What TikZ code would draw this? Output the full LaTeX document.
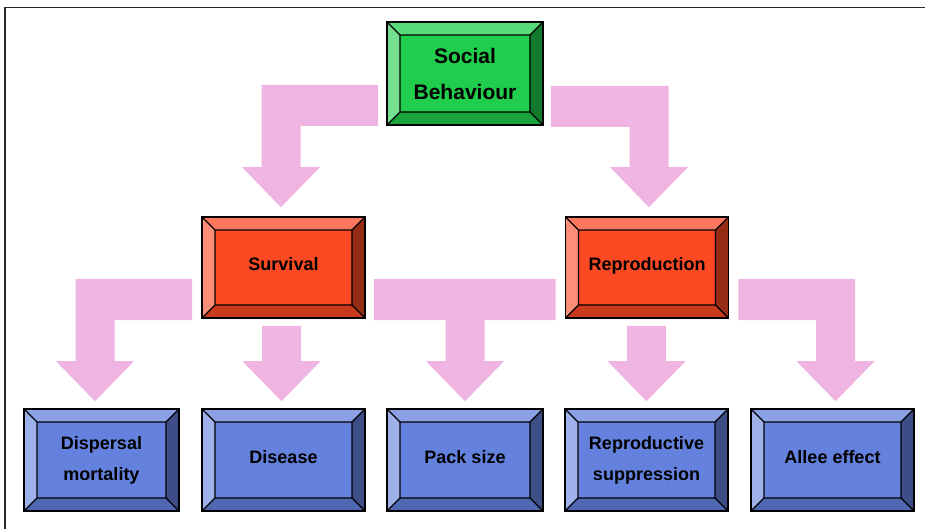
\documentclass[tikz,border=0pt]{standalone}
\usepackage{fontspec}
\setmainfont{Liberation Sans}
\usetikzlibrary{calc}

\definecolor{boxgreen}{RGB}{32,205,76}
\definecolor{boxred}{RGB}{251,73,36}
\definecolor{boxblue}{RGB}{100,129,221}
\definecolor{arrowpink}{RGB}{240,180,226}
\definecolor{framegray}{RGB}{40,40,40}

% block arrows: bar from the source, then down to the tip
\newcommand{\elbowarrow}[2]{%
  \fill[pinkarrow] let \p1=(#1), \p2=(#2), \n1={sign(\x2-\x1)} in
    (\x1,\y1) -- ({\x2+(\n1)*19.5pt},\y1) -- ({\x2+(\n1)*19.5pt},\y2+40pt) -- ({\x2+(\n1)*39pt},\y2+40pt)
    -- (\x2,\y2) -- ({\x2-(\n1)*39pt},\y2+40pt) -- ({\x2-(\n1)*19.5pt},\y2+40pt) -- ({\x2-(\n1)*19.5pt},\y1-41pt)
    -- (\x1,\y1-41pt) -- cycle;}
\newcommand{\teearrow}[3]{%
  \fill[pinkarrow] let \p1=(#1), \p2=(#2), \p3=(#3) in
    (\x1,\y1) -- (\x2,\y1) -- (\x2,\y1-41pt) -- (\x3+19.5pt,\y1-41pt) -- (\x3+19.5pt,\y3+40pt)
    -- (\x3+39pt,\y3+40pt) -- (\x3,\y3) -- (\x3-39pt,\y3+40pt) -- (\x3-19.5pt,\y3+40pt)
    -- (\x3-19.5pt,\y1-41pt) -- (\x1,\y1-41pt) -- cycle;}
\newcommand{\droparrow}[2]{%
  \fill[pinkarrow] let \p1=(#1), \p2=(#2) in
    (\x2-19.5pt,\y1) -- (\x2+19.5pt,\y1) -- (\x2+19.5pt,\y2+40pt) -- (\x2+39pt,\y2+40pt)
    -- (\x2,\y2) -- (\x2-39pt,\y2+40pt) -- (\x2-19.5pt,\y2+40pt) -- cycle;}

\begin{document}
\begin{tikzpicture}[x=1pt, y=-1pt]
	\tikzset{bevel/.style={draw=black, line width=1.6pt, fill=#1, rectangle, inner sep=0pt, align=center,
		font=\bfseries\fontsize{18}{31}\selectfont,
		path picture={
			\coordinate (o1) at (path picture bounding box.north west);
			\coordinate (o2) at (path picture bounding box.north east);
			\coordinate (o3) at (path picture bounding box.south east);
			\coordinate (o4) at (path picture bounding box.south west);
			\coordinate (i1) at ($(o1)+(13pt,-13pt)$);
			\coordinate (i2) at ($(o2)+(-13pt,-13pt)$);
			\coordinate (i3) at ($(o3)+(-13pt,13pt)$);
			\coordinate (i4) at ($(o4)+(13pt,13pt)$);
			\fill[#1!75!white] (o1) -- (o2) -- (i2) -- (i1) -- cycle;
			\fill[#1!62!white] (o1) -- (i1) -- (i4) -- (o4) -- cycle;
			\fill[#1!60!black] (o2) -- (o3) -- (i3) -- (i2) -- cycle;
			\fill[#1!80!black] (o4) -- (i4) -- (i3) -- (o3) -- cycle;
			\draw[line width=1.2pt] (o1) -- (i1) (o2) -- (i2) (o3) -- (i3) (o4) -- (i4) (i1) rectangle (i3);
		}}}
	\tikzstyle{top} = [bevel=boxgreen, minimum width=156pt, minimum height=103pt, font=\bfseries\fontsize{21}{36}\selectfont];
	\tikzstyle{middle} = [bevel=boxred, minimum width=163pt, minimum height=101pt];
	\tikzstyle{bottom} = [bevel=boxblue, minimum width=163pt, minimum height=102pt];
	\tikzstyle{oneline} = [text height=13pt, text depth=7pt];
	\tikzstyle{pinkarrow} = [fill=arrowpink];

	\useasboundingbox (0,0) rectangle (925,529);
	\draw[framegray, line width=1.8pt] (5,529) -- (5,7.5) -- (925,7.5);

	\node[top](social) at (465,73.5) {Social\\Behaviour};
	\node[middle,oneline](survival) at (283.5,267.5) {Survival};
	\node[middle,oneline](reproduction) at (647,267.5) {Reproduction};
	\node[bottom, minimum width=155pt](dispersal) at (101.5,460) {Dispersal\\mortality};
	\node[bottom,oneline](disease) at (283.5,460) {Disease};
	\node[bottom,oneline, minimum width=156pt](pack) at (465,460) {Pack size};
	\node[bottom](repsupp) at (646.5,460) {Reproductive\\suppression};
	\node[bottom,oneline](allee) at (832.5,460) {Allee effect};

	\elbowarrow{$(social.west)+(-8,11.5)$}{$(survival.north)+(-2.5,-9)$}
	\elbowarrow{$(social.east)+(7,12.5)$}{$(reproduction.north)+(2,-9)$}
	\elbowarrow{$(survival.west)+(-9,11.5)$}{$(dispersal.north)+(-6.5,-7)$}
	\teearrow{$(survival.east)+(8,11.5)$}{$(reproduction.west)+(-9,11.5)$}{$(pack.north)+(0,-7)$}
	\droparrow{$(survival.south)+(0,7)$}{$(disease.north)+(-2,-7)$}
	\droparrow{$(reproduction.south)+(0,7)$}{$(repsupp.north)+(0,-7)$}
	\elbowarrow{$(reproduction.east)+(9,11.5)$}{$(allee.north)+(3,-7)$}
\end{tikzpicture}
\end{document}
